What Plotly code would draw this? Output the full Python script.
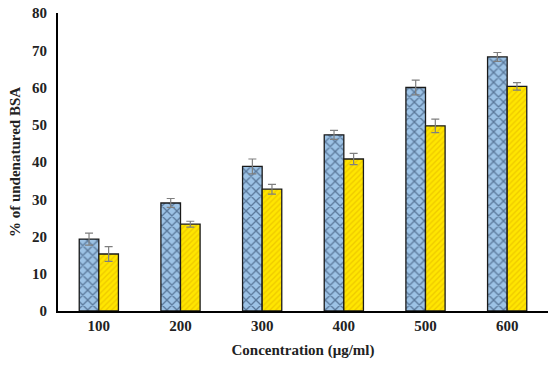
import plotly.graph_objects as go

categories = ["100", "200", "300", "400", "500", "600"]
series_a = [19.3, 29.0, 38.8, 47.3, 60.0, 68.2]
series_a_err = [1.6, 1.2, 2.0, 1.2, 2.0, 1.2]
series_b = [15.3, 23.3, 32.7, 40.8, 49.7, 60.3]
series_b_err = [2.0, 0.8, 1.3, 1.5, 1.8, 1.0]

font_fam = "Liberation Serif, Times New Roman, serif"

fig = go.Figure()
fig.add_trace(go.Bar(
    x=categories, y=series_a,
    error_y=dict(type="data", array=series_a_err, color="#7f7f7f", thickness=1.2, width=4),
    marker=dict(color="#9DC3E6", line=dict(color="#1a1a1a", width=1.3),
                pattern=dict(shape="x", fgcolor="#1A3050", size=7, solidity=0.35)),
    showlegend=False,
))
fig.add_trace(go.Bar(
    x=categories, y=series_b,
    error_y=dict(type="data", array=series_b_err, color="#7f7f7f", thickness=1.2, width=4),
    marker=dict(color="#FFE600", line=dict(color="#1a1a1a", width=1.3),
                pattern=dict(shape="/", fgcolor="#E0B000", size=4, solidity=0.35)),
    showlegend=False,
))

fig.update_layout(
    width=550, height=366,
    margin=dict(l=58, r=2, t=13, b=55),
    paper_bgcolor="white", plot_bgcolor="white",
    barmode="group", bargap=0.52, bargroupgap=0.0,
    font=dict(family=font_fam, size=15, color="#222222"),
    xaxis=dict(
        automargin=False,
        showline=True, linecolor="black", linewidth=2,
        ticks="", showgrid=False,
        tickfont=dict(family=font_fam, size=15, color="#222222", weight="bold"),
        title=dict(text="<b>Concentration (μg/ml)</b>", font=dict(family=font_fam, size=15), standoff=11),
    ),
    yaxis=dict(
        automargin=False,
        range=[0, 80], dtick=10,
        showline=True, linecolor="black", linewidth=2,
        ticks="", showgrid=False, zeroline=False,
        tickfont=dict(family=font_fam, size=15, color="#222222", weight="bold"),
        ticklabelstandoff=6,
        title=dict(text="<b>% of undenatured BSA</b>", font=dict(family=font_fam, size=15), standoff=8),
    ),
)

fig.write_html("out.html", config={"displayModeBar": False},
               post_script="document.body.style.margin='0';")
